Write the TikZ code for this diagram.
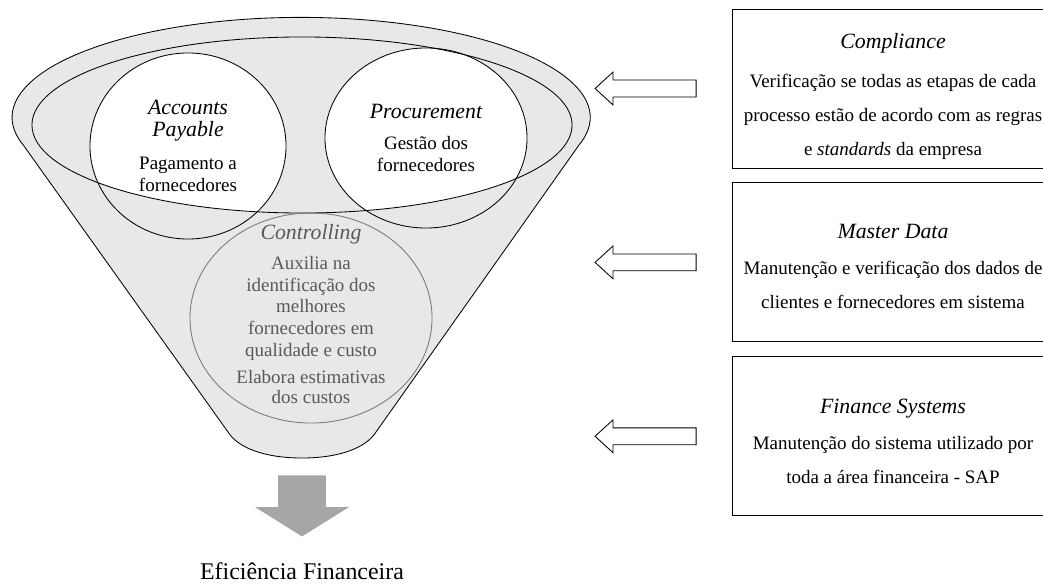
\documentclass[tikz,border=0pt]{standalone}
\usepackage{fontspec}
\setmainfont{Liberation Serif}
\usetikzlibrary{shapes.geometric, shapes.arrows, positioning}
\definecolor{funnelgray}{RGB}{232,232,232}
\definecolor{ctrlline}{RGB}{120,120,120}
\definecolor{ctrltext}{RGB}{89,89,89}
\definecolor{arrowgray}{RGB}{166,166,166}
\newcommand{\headtxt}{\fontsize{15.5}{18}\selectfont\itshape}
\newcommand{\bodytxt}{\fontsize{13.5}{15.6}\selectfont}
\newcommand{\boxtxt}{\fontsize{13.5}{24}\selectfont}
\tikzset{
outline/.style={draw=black, line width=0.6pt}, % thin black border
bubble/.style={ellipse, outline, align=center, inner sep=0pt, font=\bodytxt},
infobox/.style={rectangle, outline, minimum width=8.05cm, minimum height=3.975cm, inner sep=0pt},
boxtext/.style={align=center, inner sep=0pt, font=\boxtxt},
hollowarrow/.style={single arrow, outline, fill=white, shape border rotate=180, minimum height=2.525cm, inner xsep=0pt, inner ysep=0.2cm, single arrow head extend=0.2cm, single arrow tip angle=85},
}

\begin{document}
\begin{tikzpicture}[x=0.025cm, y=-0.025cm] % one unit is one pixel, y going down
  \useasboundingbox (0,0) rectangle (1043,584);

  % funnel body
  \draw[outline, fill=funnelgray] (579,145) arc[start angle=-16, end angle=196, x radius=7.225cm, y radius=2.5cm]
    -- (228,432) .. controls (238,448) and (265,458) .. (302,458)
    .. controls (339,458) and (366,448) .. (376,432) -- cycle;

  \coordinate (apc) at (188,146);
  \coordinate (procc) at (426,138);
  \coordinate (ctrlc) at (311,318);

  % white where the circles meet the rim
  \begin{scope}
    \clip (302,125) ellipse [x radius=6.75cm, y radius=2.2cm];
    \fill[white] (apc) ellipse [x radius=2.45cm, y radius=2.325cm];
    \fill[white] (procc) ellipse [x radius=2.525cm, y radius=2.25cm];
    \fill[white] (ctrlc) ellipse [x radius=3.025cm, y radius=2.625cm];
  \end{scope}
  \draw[outline] (302,125) ellipse [x radius=6.75cm, y radius=2.2cm];

  \node[bubble, minimum width=4.9cm, minimum height=4.65cm] (ap) at (apc)
    {{\headtxt Accounts}\\{\headtxt Payable}\\[7.8pt]Pagamento a\\fornecedores};
  \node[bubble, minimum width=5.05cm, minimum height=4.5cm] (proc) at (procc)
    {{\headtxt Procurement}\\[7pt]Gestão dos\\fornecedores};
  \node[bubble, draw=ctrlline, minimum width=6.05cm, minimum height=5.25cm] (ctrl) at (ctrlc) {};
  \node[align=center, font=\bodytxt, text=ctrltext, inner sep=0pt] (ctrltxt) at (311,314)
    {{\headtxt Controlling}\\[5.7pt]Auxilia na\\identificação dos\\melhores\\fornecedores em\\qualidade e custo\\[3.6pt]Elabora estimativas\\[-1.4pt]dos custos};

  % result
  \node[single arrow, fill=arrowgray, shape border rotate=270, minimum height=1.525cm, inner xsep=0.5875cm, inner ysep=0pt,
    single arrow head extend=0.575cm, single arrow tip angle=116] (down) at (302,498.5) {};
  \node[font=\fontsize{17}{20}\selectfont, anchor=base, inner sep=0pt] (efic) at (302,579) {Eficiência Financeira};

  % support areas
  \node[infobox] (comp) at (893,88.5) {};
  \node[infobox, below=0.35cm of comp] (mdata) {};
  \node[infobox, below=0.35cm of mdata] (fsys) {};

  \node[boxtext, yshift=-0.2cm] (comptxt) at (comp)
    {{\headtxt Compliance}\\[4pt]Verificação se todas as etapas de cada\\processo estão de acordo com as regras\\e \textit{standards} da empresa};
  \node[boxtext, yshift=-0.1cm] (mdatatxt) at (mdata)
    {{\headtxt Master Data}\\[2pt]Manutenção e verificação dos dados de\\clientes e fornecedores em sistema};
  \node[boxtext, yshift=-0.12cm] (fsystxt) at (fsys)
    {{\headtxt Finance Systems}\\[2pt]Manutenção do sistema utilizado por\\toda a área financeira - SAP};

  \node[hollowarrow, left=0.875cm of comp] (tocomp) {};
  \node[hollowarrow, left=0.875cm of mdata] (tomdata) {};
  \node[hollowarrow, left=0.875cm of fsys] (tofsys) {};

\end{tikzpicture}
\end{document}
